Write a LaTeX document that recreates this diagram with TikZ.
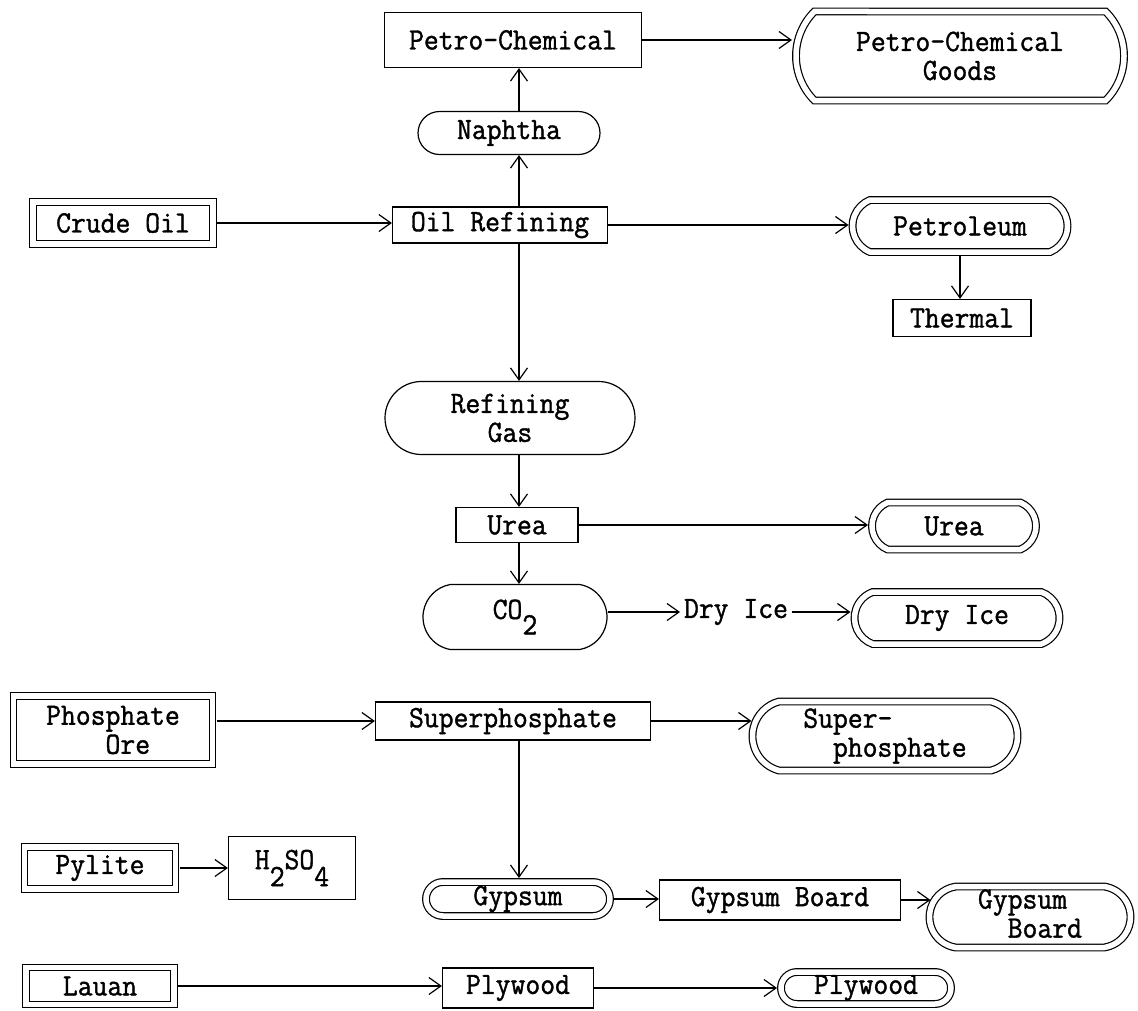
\documentclass[tikz,border=0pt]{standalone}
\usepackage{fontspec}
\newfontfamily\twfont{Latin Modern Mono}[FakeBold=1.2, FakeStretch=0.93]
\usetikzlibrary{shapes.misc,arrows.meta}
\begin{document}
\begin{tikzpicture}[x=1pt,y=-1pt,
  base/.style={font=\twfont\fontsize{31}{29}\selectfont, inner sep=0pt, line width=1.2pt, align=center},
  box/.style={base, draw, rectangle},
  dbox/.style={base, draw, rectangle, double, double distance=5.5pt, outer sep=4pt},
  pill/.style={base, draw, rounded rectangle},
  dpill/.style={base, draw, rounded rectangle, double, double distance=5.5pt, outer sep=4pt},
  sz/.style 2 args={minimum width=#1pt, minimum height=#2pt},
  arc/.style={rounded rectangle arc length=#1},
  arr/.style={line width=1.2pt, -{Straight Barb[length=12pt,width=17pt,line width=1.2pt]}}
]
\useasboundingbox (0,0) rectangle (1138,1010);

% nodes
\node[box, sz={257}{55}] (pc) at (513,40) {Petro-Chemical};
\node[dpill, sz={328}{89}, arc=90] (pcg) at (960,56) {Petro-Chemical\\Goods};
\node[pill, sz={182}{43}] (naph) at (509,133) {Naphtha};
\node[dbox, sz={180}{42}] (crude) at (123,223) {Crude Oil};
\node[box, sz={215}{36}] (oil) at (500,225) {Oil Refining};
\node[dpill, sz={215}{52}, arc=135] (petrol) at (960,226) {Petroleum};
\node[box, sz={138}{37}] (thermal) at (962,318) {Thermal};
\node[pill, sz={250}{73}] (rgas) at (510,418) {Refining\\Gas};
\node[box, sz={122}{35}] (urea) at (517,525) {Urea};
\node[dpill, sz={164}{47}, arc=135] (ureap) at (954,526) {Urea};
\node[pill, sz={184}{65}, arc=160] (co2) at (515,617) {CO\raisebox{-0.5em}{2}};
\node[base, outer sep=4pt] (dry) at (736,612) {Dry Ice};
\node[dpill, sz={205}{52}, arc=140] (dryp) at (957,618) {Dry Ice};
\node[dbox, sz={199}{68}, align=left] (phos) at (113,730) {Phosphate\\\phantom{Phos}Ore};
\node[box, sz={275}{38}] (sup) at (513,721) {Superphosphate};
\node[dpill, sz={265}{69}, arc=150, align=left] (supp) at (885,736) {Super-\\\phantom{ph}phosphate};
\node[dbox, sz={151}{42}] (pylite) at (100,868) {Pylite};
\node[box, sz={127}{63}] (h2so4) at (292,868) {H\raisebox{-0.55em}{2}SO\raisebox{-0.55em}{4}};
\node[dpill, sz={184}{34}] (gyp) at (518,899) {Gypsum};
\node[box, sz={241}{40}] (gypb) at (780,900) {Gypsum Board};
\node[dpill, sz={201}{61}, arc=163, align=left] (gypbp) at (1030,917) {Gypsum\\\phantom{Gy}Board};
\node[dbox, sz={148}{37}] (lauan) at (100,986) {Lauan};
\node[box, sz={151}{40}] (ply) at (518,988) {Plywood};
\node[dpill, sz={170}{32}] (plyp) at (866,988) {Plywood};

% connectors
\coordinate (vx) at (519,0);
\draw[arr] (oil.north -| vx) -- (naph.south -| vx);
\draw[arr] (naph.north -| vx) -- (pc.south -| vx);
\draw[arr] (pc.east) -- (pc.east -| pcg.west);
\draw[arr] (crude.east) -- (crude.east -| oil.west);
\draw[arr] (oil.east) -- (oil.east -| petrol.west);
\draw[arr] (petrol.south) -- (petrol.south |- thermal.north);
\draw[arr] (oil.south -| vx) -- (rgas.north -| vx);
\draw[arr] (rgas.south -| vx) -- (urea.north -| vx);
\draw[arr] (urea.east) -- (urea.east -| ureap.west);
\draw[arr] (urea.south -| vx) -- (co2.north -| vx);
\draw[arr] (dry.west -| co2.east) -- (dry.west);
\draw[arr] (dry.east) -- (dry.east -| dryp.west);
\draw[arr] (phos.east |- sup.west) -- (sup.west);
\draw[arr] (sup.east) -- ([xshift=3pt]sup.east -| supp.west);
\draw[arr] (sup.south -| vx) -- (gyp.north -| vx);
\draw[arr] (gyp.east) -- (gyp.east -| gypb.west);
\draw[arr] (gypb.east) -- ([xshift=5pt]gypb.east -| gypbp.west);
\draw[arr] (pylite.east) -- (pylite.east -| h2so4.west);
\draw[arr] (lauan.east) -- (lauan.east -| ply.west);
\draw[arr] (ply.east) -- (ply.east -| plyp.west);
\end{tikzpicture}
\end{document}
